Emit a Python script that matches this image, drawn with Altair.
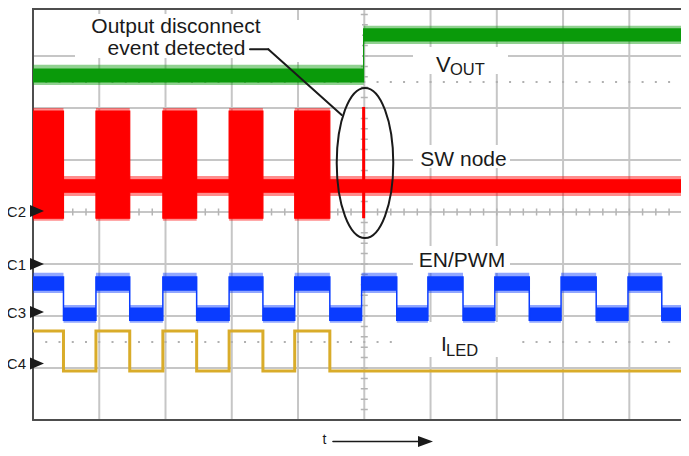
import altair as alt
import pandas as pd

# ---------------- data (oscilloscope screen divisions) ----------------
X_MAX = 9.78         # visible horizontal divisions (right edge cut off)
Y_MAX = 7.923        # visible vertical divisions

grid_x = [1, 2, 3, 4, 5, 6, 7, 8, 9]
grid_y = [1, 2, 3, 4, 5, 6, 7]
dot_rows = [1.5, 6.5]

# EN/PWM edges (time divisions)
pwm_rise = [-0.05, 0.95, 1.96, 2.96, 3.95, 4.96, 5.96, 6.97, 7.97, 8.98]
pwm_fall = [0.46, 1.46, 2.47, 3.47, 4.48, 5.49, 6.49, 7.49, 8.50, 9.49]
pulses_before_event = 5
event_t = 4.99

# trace levels [bottom, top] in vertical divisions
vout_before = [6.50, 6.75]
vout_before_env = [6.44, 6.83]
vout_after = [7.29, 7.52]
vout_after_env = [7.23, 7.58]

sw_burst = [3.88, 5.94]
sw_burst_env = [3.83, 6.00]
sw_idle = [4.38, 4.62]
sw_idle_env = [4.31, 4.69]
sw_spike = [3.88, 6.02]

en_high = [2.50, 2.75]
en_high_env = [2.44, 2.83]
en_low = [1.92, 2.15]
en_low_env = [1.87, 2.21]

iled_high = 1.71
iled_low = 0.94

# ---------------- tables ----------------
def band_table(segments):
    rows = [{"t": t, "lo": b[0], "hi": b[1]} for t, b in segments]
    rows.append({"t": X_MAX + 0.3, "lo": segments[-1][1][0], "hi": segments[-1][1][1]})
    return pd.DataFrame(rows)

en_core, en_env, sw_core, sw_env, iled_pts = [], [], [], [], []
for i, (r, f) in enumerate(zip(pwm_rise, pwm_fall)):
    en_core += [(r, en_high), (f, en_low)]
    en_env += [(r, en_high_env), (f, en_low_env)]
    if i < pulses_before_event:
        sw_core += [(r, sw_burst), (f, sw_idle)]
        sw_env += [(r, sw_burst_env), (f, sw_idle_env)]
        iled_pts += [(r, iled_high), (f, iled_low)]

df_en = band_table(en_core)
df_en_env = band_table(en_env)
df_sw = band_table(sw_core)
df_sw_env = band_table(sw_env)
df_vout = band_table([(pwm_rise[0], vout_before), (event_t, vout_after)])
df_vout_env = band_table([(pwm_rise[0], vout_before_env), (event_t, vout_after_env)])
df_iled = pd.DataFrame([{"t": t, "v": v} for t, v in iled_pts] + [{"t": X_MAX + 0.3, "v": iled_low}])
df_spike = pd.DataFrame({"t": [event_t], "lo": [sw_spike[0]], "hi": [sw_spike[1]]})

# ---------------- styling ----------------
FONT = "Liberation Sans"
INK = "#1a1a1a"
GREEN = "#0a9a0a"
RED = "#ff0000"
BLUE = "#0a3cff"
GOLD = "#d9ac2a"
GRID = "#c6c6c6"
PLOT_W = 648

xs = alt.Scale(domain=[0, X_MAX], nice=False, zero=False)
ys = alt.Scale(domain=[0, Y_MAX], nice=False, zero=False)
dummy = pd.DataFrame({"d": [0]})


def band(df, color, opacity, stroke_w=0):
    kw = dict(interpolate="step-after", clip=True, color=color, opacity=opacity)
    if stroke_w:
        kw.update(stroke=color, strokeWidth=stroke_w)
    return alt.Chart(df).mark_area(**kw).encode(
        x=alt.X("t:Q", scale=xs, axis=None),
        y=alt.Y("hi:Q", scale=ys, axis=None),
        y2="lo:Q",
    )


def txt(s, x, y, size, align="left"):
    return alt.Chart(dummy).mark_text(
        text=s, fontSize=size, font=FONT, align=align, baseline="alphabetic", color=INK
    ).encode(x=alt.value(x), y=alt.value(y))


def shape(x, y, path, size, filled=True, sw=0):
    if filled:
        m = alt.Chart(dummy).mark_point(shape=path, size=size, filled=True, fill=INK, opacity=1, strokeWidth=0)
    else:
        m = alt.Chart(dummy).mark_point(shape=path, size=size, filled=False, stroke=INK, strokeWidth=sw, opacity=1)
    return m.encode(x=alt.value(x), y=alt.value(y))


def box(x0, y0, x1, y1):
    return alt.Chart(dummy).mark_rect(color="white").encode(
        x=alt.value(x0), x2=alt.value(x1), y=alt.value(y0), y2=alt.value(y1)
    )


def seg(x0, y0, x1, y1, w=2, color=INK):
    return alt.Chart(dummy).mark_rule(color=color, strokeWidth=w, strokeCap="round").encode(
        x=alt.value(x0), x2=alt.value(x1), y=alt.value(y0), y2=alt.value(y1)
    )


layers = []
# grid
layers.append(alt.Chart(pd.DataFrame({"x": grid_x})).mark_rule(color=GRID, strokeWidth=2).encode(
    x=alt.X("x:Q", scale=xs, axis=None)))
layers.append(alt.Chart(pd.DataFrame({"y": grid_y})).mark_rule(color=GRID, strokeWidth=2).encode(
    y=alt.Y("y:Q", scale=ys, axis=None)))
# minor ticks on centre lines
layers.append(alt.Chart(pd.DataFrame({"x": [0], "x2": [X_MAX], "y": [4]})).mark_rule(
    color="#b4b4b4", strokeWidth=7, strokeDash=[1.5, 11.752], strokeDashOffset=0.75).encode(
    x=alt.X("x:Q", scale=xs, axis=None), x2="x2:Q", y=alt.Y("y:Q", scale=ys, axis=None)))
layers.append(alt.Chart(pd.DataFrame({"x": [5], "y": [0], "y2": [Y_MAX]})).mark_rule(
    color="#b4b4b4", strokeWidth=7, strokeDash=[1.5, 8.9], strokeDashOffset=0.75).encode(
    x=alt.X("x:Q", scale=xs, axis=None), y=alt.Y("y:Q", scale=ys, axis=None), y2="y2:Q"))
# dotted half-division rows
layers.append(alt.Chart(pd.DataFrame({"x": [0] * len(dot_rows), "x2": [X_MAX] * len(dot_rows), "y": dot_rows})).mark_rule(
    color="#b0b0b0", strokeWidth=2, strokeDash=[2, 11.252], strokeDashOffset=1).encode(
    x=alt.X("x:Q", scale=xs, axis=None), x2="x2:Q", y=alt.Y("y:Q", scale=ys, axis=None)))

# white label backgrounds
layers += [
    box(42, 6, 239, 50), box(239, 12, 329, 54),
    box(380, 39, 475, 66), box(380, 137, 477, 160),
    box(380, 238, 477, 265), box(370, 314, 482, 349),
]

# borders
layers.append(seg(0, 0, 0, 412, w=2, color="#4d4d4d"))
layers.append(seg(0, 412, PLOT_W, 412, w=2, color="#4d4d4d"))
layers.append(seg(0, 1, PLOT_W, 1, w=2, color="#4d4d4d"))

# traces
layers += [
    band(df_vout_env, GREEN, 0.45), band(df_vout, GREEN, 1, 1.2),
    band(df_sw_env, RED, 0.45), band(df_sw, RED, 1, 1.2),
    band(df_en_env, BLUE, 0.45), band(df_en, BLUE, 1, 1.5),
]
layers.append(alt.Chart(df_spike).mark_rule(color=RED, strokeWidth=3, clip=True).encode(
    x=alt.X("t:Q", scale=xs, axis=None), y=alt.Y("lo:Q", scale=ys, axis=None), y2="hi:Q"))
layers.append(alt.Chart(df_iled).mark_line(interpolate="step-after", clip=True, color=GOLD, strokeWidth=3).encode(
    x=alt.X("t:Q", scale=xs, axis=None), y=alt.Y("v:Q", scale=ys, axis=None)))

# channel markers
TRI = "M-1,-0.857L1,0L-1,0.857Z"
for name, ypix in [("C2", 203), ("C1", 256), ("C3", 304), ("C4", 355.5)]:
    layers.append(shape(4, ypix, TRI, 196))
    layers.append(txt(name, -7, ypix + 5.5, 15, align="right"))

# labels
layers += [
    txt("Output disconnect", 143, 25, 21, align="center"),
    txt("event detected", 143.5, 46.5, 21, align="center"),
    txt("V", 403, 63.7, 22), txt("OUT", 417, 67, 16.5),
    txt("SW node", 430.5, 157.7, 21, align="center"),
    txt("EN/PWM", 429, 258.7, 21, align="center"),
    txt("I", 408, 343, 21), txt("LED", 413, 348, 16.5),
]

# leader line and ellipse
layers += [seg(217, 41.3, 235.3, 41.3), seg(235.3, 41.3, 308.7, 107)]
ELL = ("M0,-1 C0.2083,-1 0.377,-0.5523 0.377,0 C0.377,0.5523 0.2083,1 0,1 "
       "C-0.2083,1 -0.377,0.5523 -0.377,0 C-0.377,-0.5523 -0.2083,-1 0,-1 Z")
layers.append(shape(332, 155, ELL, 22500, filled=False, sw=2))

# time arrow
layers += [
    txt("t", 289.5, 436, 14),
    seg(300, 433.5, 388, 433.5, w=1.6),
    shape(392.5, 433.5, "M-1,-0.733L1,0L-1,0.733Z", 225),
]

chart = alt.layer(*layers).properties(
    width=PLOT_W, height=412,
    autosize="none",
    padding={"left": 25, "top": 0, "right": 0, "bottom": 28},
).configure_view(stroke=None)

chart.save("out.html", embed_options={"renderer": "svg", "actions": False})
